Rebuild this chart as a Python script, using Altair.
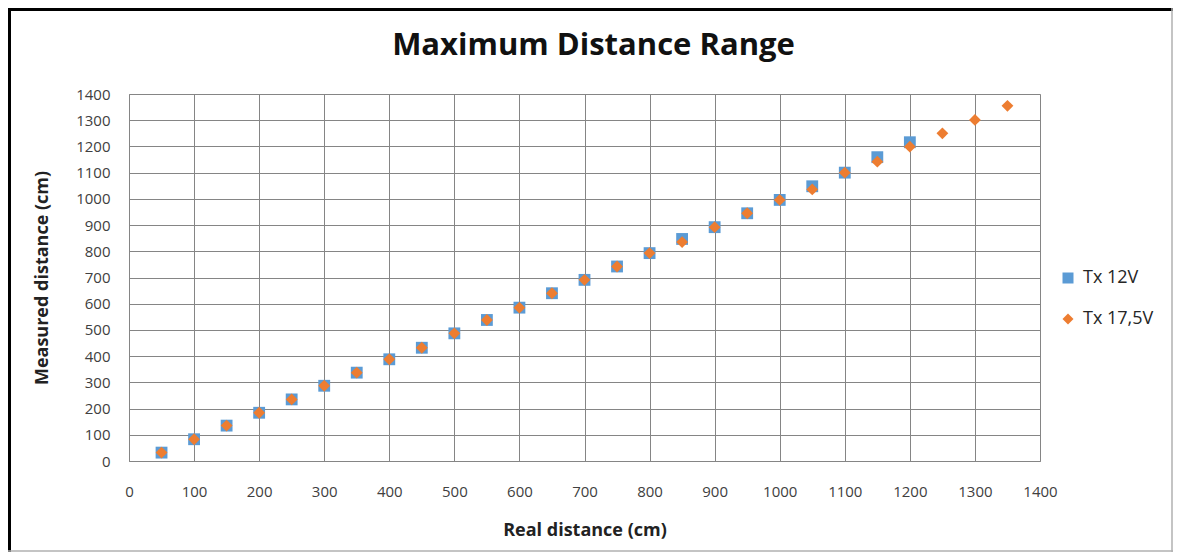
import altair as alt
import pandas as pd

# ---- data ----
series_names = ["Tx 12V", "Tx 17,5V"]

real_12v = [50, 100, 150, 200, 250, 300, 350, 400, 450, 500, 550, 600,
            650, 700, 750, 800, 850, 900, 950, 1000, 1050, 1100, 1150, 1200]
meas_12v = [32, 83, 135, 184, 235, 287, 337, 388, 432, 487, 538, 585,
            640, 691, 742, 793, 847, 892, 945, 996, 1048, 1100, 1159, 1216]

real_17v = [50, 100, 150, 200, 250, 300, 350, 400, 450, 500, 550, 600,
            650, 700, 750, 800, 850, 900, 950, 1000, 1050, 1100, 1150, 1200,
            1250, 1300, 1350]
meas_17v = [32, 83, 135, 184, 235, 287, 337, 388, 432, 487, 538, 585,
            640, 691, 742, 793, 835, 892, 945, 996, 1036, 1100, 1142, 1199,
            1250, 1301, 1355]

axis_ticks = list(range(0, 1401, 100))

rows = []
for x, y in zip(real_12v, meas_12v):
    rows.append({"real": x, "measured": y, "series": series_names[0]})
for x, y in zip(real_17v, meas_17v):
    rows.append({"real": x, "measured": y, "series": series_names[1]})
df = pd.DataFrame(rows)

FONT = "Open Sans"
GRID = "#858585"
W, H = 911, 367

legend_cfg = dict(title=None, orient="none", legendX=930, legendY=175,
                  labelFont=FONT, labelFontSize=18, labelColor="#262626",
                  labelOffset=6, rowPadding=23, symbolSize=121, padding=0)

points = alt.Chart(df).mark_point(filled=True, opacity=1, size=140).encode(
    x=alt.X("real:Q",
            scale=alt.Scale(domain=[0, 1400], nice=False, zero=True),
            axis=alt.Axis(values=axis_ticks, format="d", title="Real distance (cm)",
                          grid=True, gridColor=GRID, gridWidth=1,
                          domainColor=GRID, ticks=False, labelPadding=23,
                          labelFontSize=15, labelColor="#404040", labelFont=FONT,
                          labelFlush=False,
                          titleFont=FONT, titleFontSize=18, titleFontWeight="bold",
                          titleColor="#222222", titleY=69, titleBaseline="middle")),
    y=alt.Y("measured:Q",
            scale=alt.Scale(domain=[0, 1400], nice=False, zero=True),
            axis=alt.Axis(values=axis_ticks, format="d", title="Measured distance (cm)",
                          grid=True, gridColor=GRID, gridWidth=1,
                          domainColor=GRID, ticks=False, labelPadding=19,
                          labelFontSize=15, labelColor="#404040", labelFont=FONT,
                          labelFlush=False,
                          titleFont=FONT, titleFontSize=18, titleFontWeight="bold",
                          titleColor="#222222", titleX=-87, titleY=H / 2,
                          titleAngle=-90, titleBaseline="middle", titleAlign="center")),
    color=alt.Color("series:N",
                    scale=alt.Scale(domain=series_names, range=["#5B9BD5", "#ED7D31"]),
                    legend=alt.Legend(**legend_cfg)),
    shape=alt.Shape("series:N",
                    scale=alt.Scale(domain=series_names, range=["square", "diamond"]),
                    legend=alt.Legend(**legend_cfg)),
    order=alt.Order("series:N", sort="ascending"),
)

frame_df = pd.DataFrame({"k": [0]})
left_frame = alt.Chart(frame_df).mark_rule(color="black", strokeWidth=4).encode(
    x=alt.value(-120), y=alt.value(-86), y2=alt.value(460))
top_frame = alt.Chart(frame_df).mark_rule(color="black", strokeWidth=4).encode(
    y=alt.value(-85), x=alt.value(-121), x2=alt.value(1044))
right_frame = alt.Chart(frame_df).mark_rule(color="#b0b0b0", strokeWidth=1.5).encode(
    x=alt.value(1043), y=alt.value(-86), y2=alt.value(458))
bottom_frame = alt.Chart(frame_df).mark_rule(color="#b0b0b0", strokeWidth=1.5).encode(
    y=alt.value(457), x=alt.value(-121), x2=alt.value(1044))

chart = alt.layer(points, left_frame, top_frame, right_frame, bottom_frame).properties(
    width=W, height=H,
    title=alt.TitleParams("Maximum Distance Range", font=FONT, fontSize=31,
                          fontWeight="bold", color="#111111", anchor="middle",
                          frame="group", baseline="alphabetic", offset=0, dy=80, dx=9),
    autosize=alt.AutoSizeParams(type="none"),
    padding={"left": 121, "top": 86, "right": 133, "bottom": 91},
).configure_view(stroke=GRID, strokeWidth=1).configure(background="white")

chart.save("out.html", embed_options={"renderer": "svg", "actions": False})
